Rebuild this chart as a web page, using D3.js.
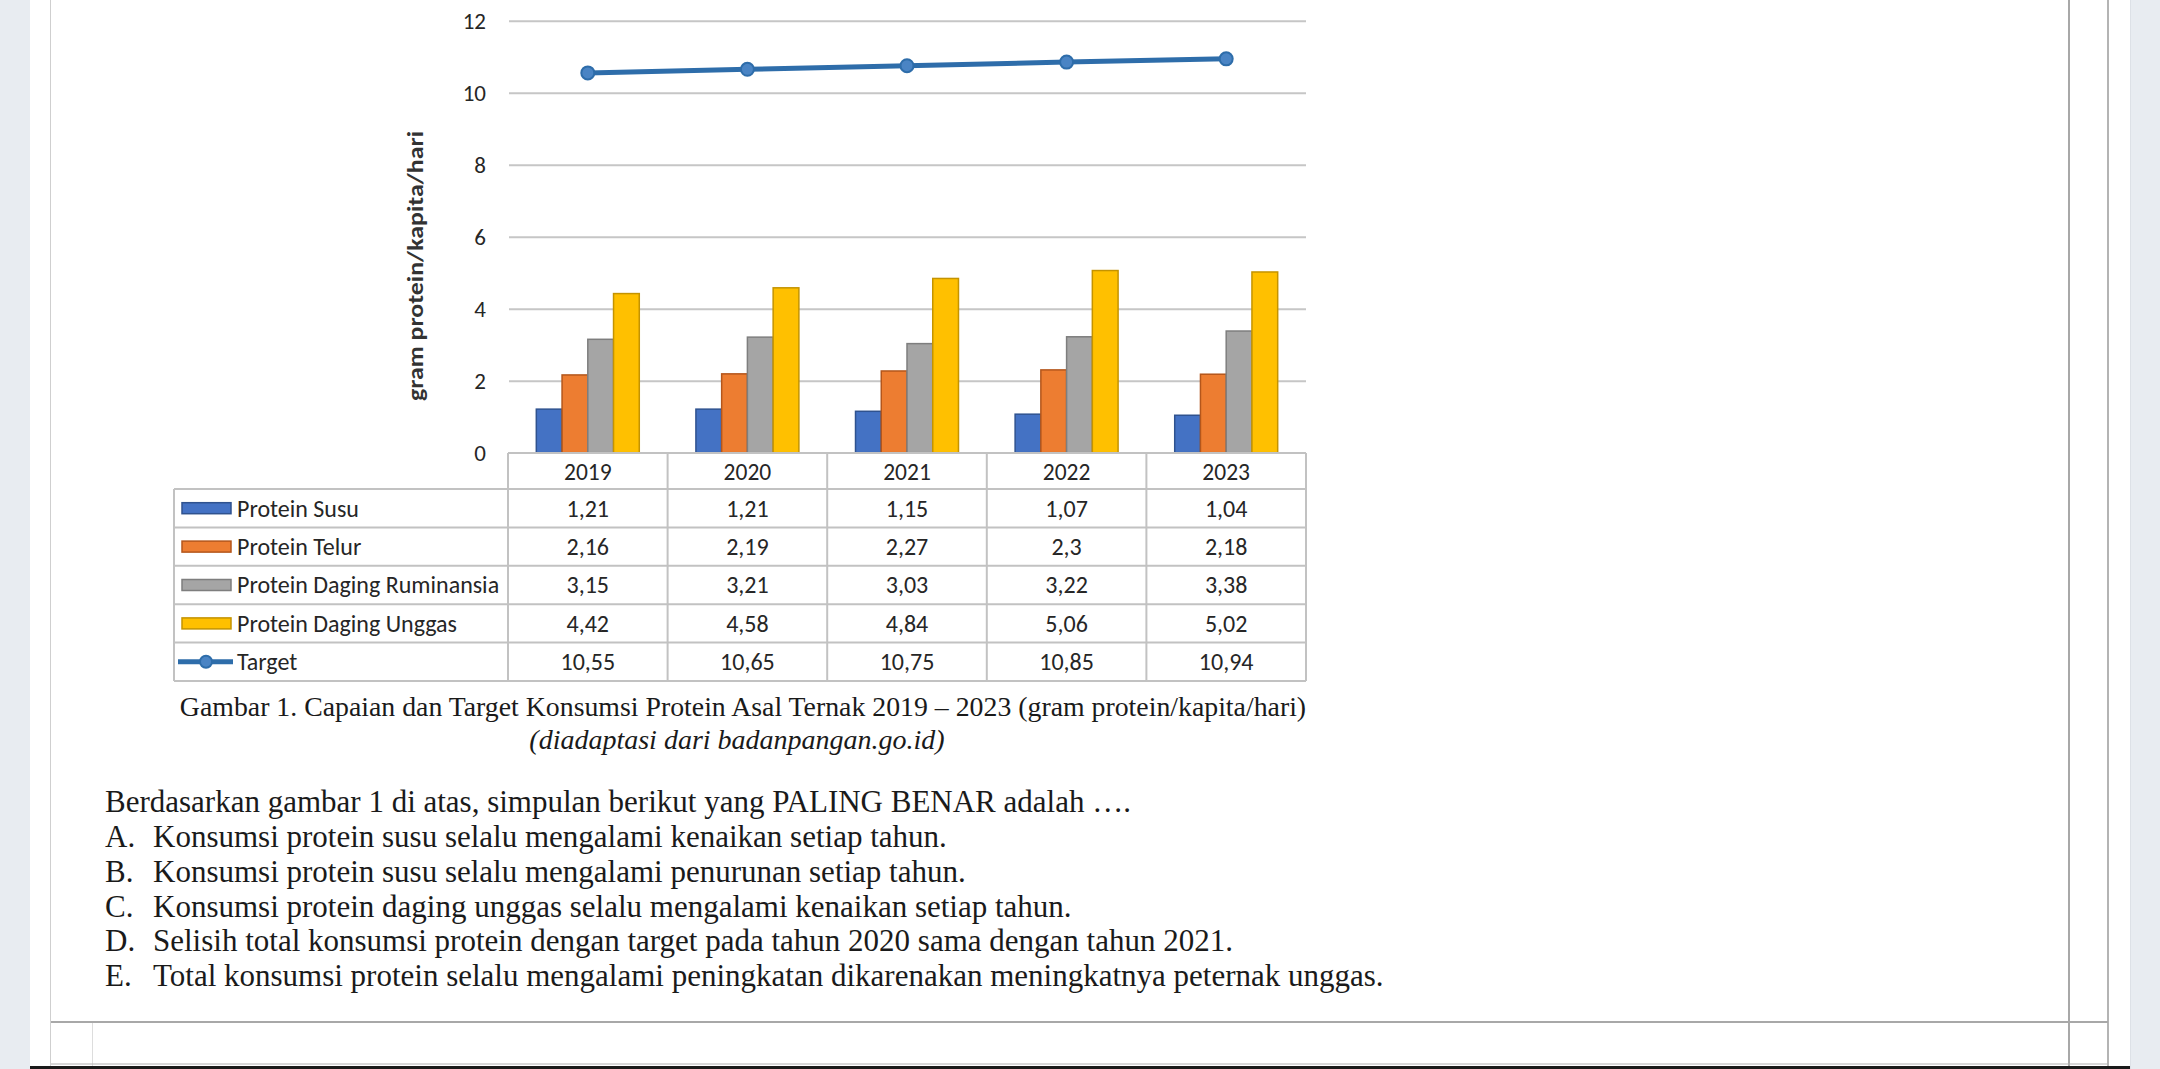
<!DOCTYPE html>
<html>
<head>
<meta charset="utf-8">
<script src="https://cdn.jsdelivr.net/npm/d3@7"></script>
<style>
  body { margin: 0; background: #fff; }
  svg { display: block; }
</style>
</head>
<body>
<div id="chart"></div>
<script>
// data
var years = ["2019", "2020", "2021", "2022", "2023"];
var susu = [1.21, 1.21, 1.15, 1.07, 1.04];
var telur = [2.16, 2.19, 2.27, 2.3, 2.18];
var ruminansia = [3.15, 3.21, 3.03, 3.22, 3.38];
var unggas = [4.42, 4.58, 4.84, 5.06, 5.02];
var target = [10.55, 10.65, 10.75, 10.85, 10.94];
var barNames = ["Protein Susu", "Protein Telur", "Protein Daging Ruminansia", "Protein Daging Unggas"];
var rowNames = ["Protein Susu", "Protein Telur", "Protein Daging Ruminansia", "Protein Daging Unggas", "Target"];
var yTicks = [0, 2, 4, 6, 8, 10, 12];

var caption = "Gambar 1. Capaian dan Target Konsumsi Protein Asal Ternak 2019 \u2013 2023 (gram protein/kapita/hari)";
var source = "(diadaptasi dari badanpangan.go.id)";
var question = "Berdasarkan gambar 1 di atas, simpulan berikut yang PALING BENAR adalah \u2026.";
var optLetters = ["A.", "B.", "C.", "D.", "E."];
var options = [
  "Konsumsi protein susu selalu mengalami kenaikan setiap tahun.",
  "Konsumsi protein susu selalu mengalami penurunan setiap tahun.",
  "Konsumsi protein daging unggas selalu mengalami kenaikan setiap tahun.",
  "Selisih total konsumsi protein dengan target pada tahun 2020 sama dengan tahun 2021.",
  "Total konsumsi protein selalu mengalami peningkatan dikarenakan meningkatnya peternak unggas."
];

var barSeries = [susu, telur, ruminansia, unggas];
var rowSeries = [susu, telur, ruminansia, unggas, target];
var fills = ["#4472C4", "#ED7D31", "#A5A5A5", "#FFC000"];
var strokes = ["#2F528F", "#B4561B", "#7E7E7E", "#C49300"];
var lineColor = "#2E6DAA";

var W = 2160, H = 1069;
var svg = d3.select("#chart").append("svg")
  .attr("width", W)
  .attr("height", H);

// page frame
svg.append("rect").attr("x", 0).attr("y", 0).attr("width", 30).attr("height", H).attr("fill", "#e8ecf1");
svg.append("rect").attr("x", 2130).attr("y", 0).attr("width", 30).attr("height", H).attr("fill", "#e8ecf1");
svg.append("line").attr("x1", 2130.5).attr("x2", 2130.5).attr("y1", 0).attr("y2", H).attr("stroke", "#dde1e7");
svg.append("line").attr("x1", 50.5).attr("x2", 50.5).attr("y1", 0).attr("y2", H).attr("stroke", "#cfcfcf");
svg.append("line").attr("x1", 2069).attr("x2", 2069).attr("y1", 0).attr("y2", H).attr("stroke", "#a8a8a8").attr("stroke-width", 2);
svg.append("line").attr("x1", 2108).attr("x2", 2108).attr("y1", 0).attr("y2", H).attr("stroke", "#b4b4b4").attr("stroke-width", 2);
svg.append("line").attr("x1", 51).attr("x2", 2108).attr("y1", 1022).attr("y2", 1022).attr("stroke", "#a8a8a8").attr("stroke-width", 2);
svg.append("line").attr("x1", 92.5).attr("x2", 92.5).attr("y1", 1023).attr("y2", H).attr("stroke", "#dddddd");
svg.append("line").attr("x1", 51).attr("x2", 2108).attr("y1", 1064).attr("y2", 1064).attr("stroke", "#b0b0b0");
svg.append("rect").attr("x", 30).attr("y", 1066).attr("width", 2100).attr("height", 3).attr("fill", "#1a1a1a");

// scales
var x = d3.scaleBand().domain(years).range([508, 1306]).padding(0);
var xs = d3.scaleBand().domain(barNames).range([0, x.bandwidth()]).paddingInner(0).paddingOuter(1.1);
var y = d3.scaleLinear().domain([0, 12]).range([452.7, 20.7]);
var rows = d3.scaleBand().domain(rowNames).range([489, 681]);

var chartFont = "Carlito, Lato, 'Open Sans', sans-serif";

// gridlines
svg.append("g")
  .attr("transform", "translate(509,0)")
  .call(d3.axisLeft(y).tickValues(yTicks.slice(1)).tickSize(-(1306 - 509)).tickFormat(""))
  .call(function (g) { g.select(".domain").remove(); })
  .selectAll("line").attr("stroke", "#c6c6c6").attr("stroke-width", 2);

// y tick labels
svg.append("g")
  .attr("transform", "translate(509,0)")
  .call(d3.axisLeft(y).tickValues(yTicks).tickSize(0).tickPadding(23))
  .call(function (g) { g.select(".domain").remove(); })
  .selectAll("text")
  .attr("font-family", chartFont)
  .attr("font-size", 23)
  .attr("fill", "#262626");

// y axis title
svg.append("text")
  .attr("transform", "translate(423,266) rotate(-90)")
  .attr("text-anchor", "middle")
  .attr("font-family", chartFont)
  .attr("font-weight", "bold")
  .attr("font-size", 22)
  .attr("fill", "#333")
  .attr("textLength", 270)
  .attr("lengthAdjust", "spacingAndGlyphs")
  .text("gram protein/kapita/hari");

// bars
barSeries.forEach(function (vals, i) {
  svg.append("g").selectAll("rect")
    .data(vals)
    .enter()
    .append("rect")
    .attr("x", function (d, j) { return x(years[j]) + xs(barNames[i]); })
    .attr("y", function (d) { return y(d); })
    .attr("width", xs.bandwidth())
    .attr("height", function (d) { return y(0) - y(d); })
    .attr("fill", fills[i])
    .attr("stroke", strokes[i])
    .attr("stroke-width", 1.5);
});

// target line
var line = d3.line()
  .x(function (d, j) { return x(years[j]) + x.bandwidth() / 2; })
  .y(function (d) { return y(d); });
svg.append("path")
  .datum(target)
  .attr("d", line)
  .attr("fill", "none")
  .attr("stroke", lineColor)
  .attr("stroke-width", 5);
svg.append("g").selectAll("circle")
  .data(target)
  .enter()
  .append("circle")
  .attr("cx", function (d, j) { return x(years[j]) + x.bandwidth() / 2; })
  .attr("cy", function (d) { return y(d); })
  .attr("r", 6.5)
  .attr("fill", "#4a84c4")
  .attr("stroke", lineColor)
  .attr("stroke-width", 2);

// data table
var tbl = svg.append("g");
var gridColor = "#c2c2c2";
var rowTop = rows.range()[0], rowBottom = rows.range()[1];
tbl.append("line").attr("x1", 508).attr("x2", 1306).attr("y1", 453).attr("y2", 453).attr("stroke", gridColor).attr("stroke-width", 2);
rowNames.forEach(function (r) {
  tbl.append("line").attr("x1", 174).attr("x2", 1306).attr("y1", rows(r)).attr("y2", rows(r)).attr("stroke", gridColor).attr("stroke-width", 2);
});
tbl.append("line").attr("x1", 174).attr("x2", 1306).attr("y1", rowBottom).attr("y2", rowBottom).attr("stroke", gridColor).attr("stroke-width", 2);
tbl.append("line").attr("x1", 174).attr("x2", 174).attr("y1", rowTop).attr("y2", rowBottom).attr("stroke", gridColor).attr("stroke-width", 2);
years.forEach(function (yr) {
  tbl.append("line").attr("x1", x(yr)).attr("x2", x(yr)).attr("y1", 453).attr("y2", rowBottom).attr("stroke", gridColor).attr("stroke-width", 2);
});
tbl.append("line").attr("x1", 1306).attr("x2", 1306).attr("y1", 453).attr("y2", rowBottom).attr("stroke", gridColor).attr("stroke-width", 2);

// header labels
tbl.selectAll(".yr")
  .data(years)
  .enter()
  .append("text")
  .attr("x", function (d) { return x(d) + x.bandwidth() / 2; })
  .attr("y", 472)
  .attr("dy", "0.35em")
  .attr("text-anchor", "middle")
  .attr("font-family", chartFont)
  .attr("font-size", 23.5)
  .attr("fill", "#262626")
  .text(function (d) { return d; });

// legend keys + names + values
rowNames.forEach(function (r, i) {
  var cy = rows(r) + rows.bandwidth() / 2;
  if (i < 4) {
    tbl.append("rect")
      .attr("x", 182).attr("y", cy - 5.5)
      .attr("width", 49).attr("height", 11)
      .attr("fill", fills[i])
      .attr("stroke", strokes[i])
      .attr("stroke-width", 1.5);
  } else {
    tbl.append("line")
      .attr("x1", 178).attr("x2", 233).attr("y1", cy).attr("y2", cy)
      .attr("stroke", lineColor).attr("stroke-width", 5);
    tbl.append("circle")
      .attr("cx", 206).attr("cy", cy).attr("r", 6)
      .attr("fill", "#4a84c4").attr("stroke", lineColor).attr("stroke-width", 2);
  }
  tbl.append("text")
    .attr("x", 237)
    .attr("y", cy)
    .attr("dy", "0.35em")
    .attr("font-family", chartFont)
    .attr("font-size", 24)
    .attr("fill", "#262626")
    .text(r);

  tbl.append("g").selectAll("text")
    .data(rowSeries[i])
    .enter()
    .append("text")
    .attr("x", function (d, j) { return x(years[j]) + x.bandwidth() / 2; })
    .attr("y", cy)
    .attr("dy", "0.35em")
    .attr("text-anchor", "middle")
    .attr("font-family", chartFont)
    .attr("font-size", 24)
    .attr("fill", "#262626")
    .text(function (d) { return String(d).replace(".", ","); });
});

// caption
var serif = "'Liberation Serif', 'Times New Roman', serif";
svg.append("text")
  .attr("x", 743)
  .attr("y", 716)
  .attr("text-anchor", "middle")
  .attr("font-family", serif)
  .attr("font-size", 27.8)
  .attr("fill", "#1a1a1a")
  .text(caption);

svg.append("text")
  .attr("x", 737)
  .attr("y", 749)
  .attr("text-anchor", "middle")
  .attr("font-family", serif)
  .attr("font-style", "italic")
  .attr("font-size", 28)
  .attr("fill", "#1a1a1a")
  .text(source);

// question text
svg.append("text")
  .attr("x", 105)
  .attr("y", 812)
  .attr("font-family", serif)
  .attr("font-size", 31)
  .attr("fill", "#1a1a1a")
  .text(question);

options.forEach(function (opt, i) {
  var yy = 847 + i * 34.8;
  svg.append("text")
    .attr("x", 105).attr("y", yy)
    .attr("font-family", serif).attr("font-size", 31).attr("fill", "#1a1a1a")
    .text(optLetters[i]);
  svg.append("text")
    .attr("x", 153).attr("y", yy)
    .attr("font-family", serif).attr("font-size", 31).attr("fill", "#1a1a1a")
    .text(opt);
});
</script>
</body>
</html>
